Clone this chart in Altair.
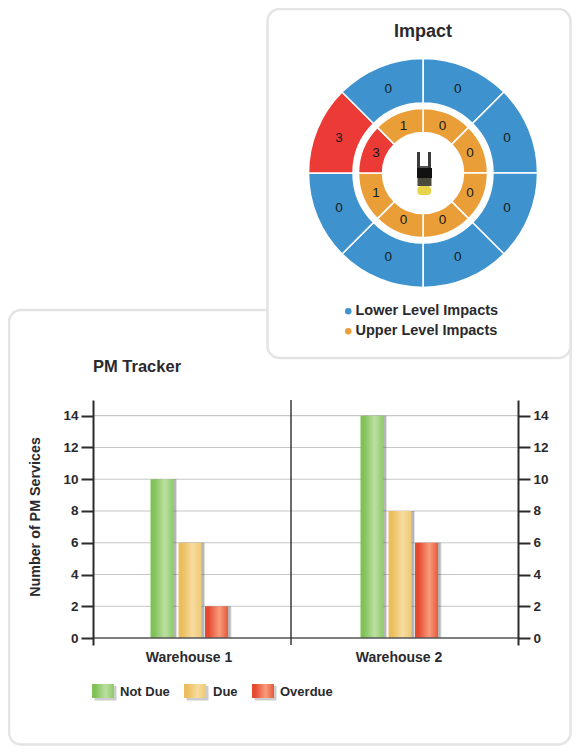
import altair as alt
import pandas as pd

FONT = "Liberation Sans"
INK = "#2a2a2e"

# ---- data
warehouses = ["Warehouse 1", "Warehouse 2"]
not_due = [10, 14]
due = [6, 8]
overdue = [2, 6]
y_ticks = [0, 2, 4, 6, 8, 10, 12, 14]
lower_values = [0, 0, 0, 0, 0, 0, 3, 0]
upper_values = [0, 0, 0, 0, 0, 1, 3, 1]
LOWER, UPPER, ALERT = "Lower Level Impacts", "Upper Level Impacts", "Alert"
sectors = [1, 1, 1, 1, 1, 1, 1, 1]

W, H = 564, 738


def grad(a, b, c):
    return alt.Gradient(
        gradient="linear", x1=0, x2=1, y1=0, y2=0,
        stops=[alt.GradientStop(color=a, offset=0),
               alt.GradientStop(color=a, offset=0.15),
               alt.GradientStop(color=b, offset=0.62),
               alt.GradientStop(color=c, offset=1)],
    )


G_GREEN = grad("#80c257", "#bcdfa2", "#8ccb68")
G_YELLOW = grad("#ebbd5c", "#f7dc9f", "#efc872")
G_RED = grad("#e54a30", "#f89c7c", "#e85a3c")
one = pd.DataFrame({"a": [0]})


def box(x, x2, y, y2, **kw):
    return alt.Chart(one).mark_rect(**kw).encode(
        x=alt.value(x), x2=alt.value(x2), y=alt.value(y), y2=alt.value(y2))


def label(text, x, y, size=14, align="left", angle=0, color=INK):
    return alt.Chart(pd.DataFrame({"t": [text]})).mark_text(
        font=FONT, fontWeight="bold", fontSize=size, align=align, angle=angle,
        baseline="middle", color=color,
    ).encode(x=alt.value(x), y=alt.value(y), text="t:N")


card = dict(fill="white", stroke="#e4e4e4", strokeWidth=2.5, cornerRadius=12)
card_bottom = box(1, 562.5, 302, 736.5, **card)
card_top = box(259.5, 562.5, 1, 350, **card)

# ---- bars
yscale = alt.Scale(domain=[-0.44, 14.99], range=[637, 392], nice=False, zero=False)
xscale = alt.Scale(domain=warehouses, range=[76, 496], paddingInner=0, paddingOuter=0)


def yaxis(orient, offset, pad):
    return alt.Axis(
        orient=orient, offset=offset, values=y_ticks, title=None, grid=False, zindex=1,
        domainColor="#2b2b2b", domainWidth=2, tickColor="#2b2b2b", tickWidth=2,
        tickSize=12, labelFont=FONT, labelFontWeight="bold", labelFontSize=13.5,
        labelColor=INK, labelPadding=pad,
    )


grid = alt.Chart(pd.DataFrame({"t": y_ticks[1:]})).mark_rule(
    color="#c6c6c6", strokeWidth=1.2
).encode(
    x=alt.value(85), x2=alt.value(510),
    y=alt.Y("t:Q", scale=yscale, axis=yaxis("left", -85, 3)),
)
baseline = alt.Chart(pd.DataFrame({"t": [0]})).mark_rule(
    color="#555555", strokeWidth=1.6
).encode(
    x=alt.value(85), x2=alt.value(510),
    y=alt.Y("t:Q", scale=yscale, axis=yaxis("right", -(W - 510), 3)),
)
mid_rule = alt.Chart(one).mark_rule(color="#2b2b2b", strokeWidth=1.4).encode(
    x=alt.value(283), y=alt.value(392), y2=alt.value(637))


def bars(values, fill, dx):
    df = pd.DataFrame({"w": warehouses, "v": values})
    enc = dict(
        x=alt.X("w:N", scale=xscale, sort=warehouses,
                axis=alt.Axis(orient="bottom", offset=630 - H, title=None, domain=False,
                              ticks=False, labelAngle=0, labelFont=FONT, zindex=1,
                              labelFontWeight="bold", labelFontSize=14, labelColor=INK,
                              labelPadding=12)),
        y=alt.Y("v:Q", scale=yscale, axis=None),
    )
    shadows = [
        alt.Chart(df).mark_bar(width=23, xOffset=dx + s, fill="#555555", opacity=o).encode(**enc)
        for s, o in ((3.5, 0.18), (2.5, 0.3))
    ]
    return alt.layer(*shadows, alt.Chart(df).mark_bar(width=23, xOffset=dx, fill=fill).encode(**enc))


bar_layers = [bars(not_due, G_GREEN, -27), bars(due, G_YELLOW, 1), bars(overdue, G_RED, 27.5)]


def swatch(x, fill):
    return [box(x + 2.5, x + 24.5, 678, 692.5, fill="#555555", opacity=0.3),
            box(x, x + 22, 676, 690, fill=fill)]


swatches = swatch(84, G_GREEN) + swatch(176, G_YELLOW) + swatch(244, G_RED)
swatch_text = [label("Not Due", 112, 684, 13), label("Due", 205, 684, 13), label("Overdue", 272, 684, 13)]

# ---- polar rings
CX, CY = 415, 165
theta = alt.Theta("s:Q", stack=True, scale=alt.Scale(domain=[0, 8]))


def ring_df(values, level):
    return pd.DataFrame({
        "i": range(8), "s": sectors, "v": values,
        "level": [ALERT if v >= 3 else level for v in values],
    })


color = alt.Color(
    "level:N",
    scale=alt.Scale(domain=[LOWER, UPPER, ALERT], range=["#3e92cd", "#ea9e38", "#ec3b36"]),
    legend=alt.Legend(orient="none", legendX=333, legendY=296, values=[LOWER, UPPER], title=None,
                      symbolType="circle", symbolSize=42, symbolStrokeWidth=0,
                      labelFont=FONT, labelFontWeight="bold", labelFontSize=14.5, labelColor=INK,
                      labelOffset=0, rowPadding=5, padding=0),
)


def ring(values, level, r, r2, rt):
    df = ring_df(values, level)
    arc = alt.Chart(df).mark_arc(radius=r, radius2=r2, stroke="white", strokeWidth=1.5).encode(
        theta=theta, color=color, order=alt.Order("i:Q"),
        x=alt.value(CX), y=alt.value(CY))
    txt = alt.Chart(df).mark_text(radius=rt, font=FONT, fontSize=13.5, color="#141c22").encode(
        theta=theta, detail="i:N", order=alt.Order("i:Q"), text="v:Q",
        x=alt.value(CX), y=alt.value(CY))
    return [arc, txt]


rings = ring(lower_values, LOWER, 114.5, 70, 91) + ring(upper_values, UPPER, 64.5, 40.5, 51)

# ---- small truck glyph
truck = [
    box(409, 412, 144, 160, fill="#3a3a3a"),
    box(420, 423, 144, 160, fill="#3a3a3a"),
    box(412, 420, 158, 160, fill="#555555"),
    box(409, 424, 160, 170, fill="#111111"),
    box(409.5, 423.5, 170, 178, fill="#4a4a3c"),
    box(409.5, 423, 178, 187, fill="#e7d34c", cornerRadius=3),
]

chart = alt.layer(
    card_bottom, card_top,
    grid,
    *bar_layers,
    baseline, mid_rule,
    *rings, *truck,
    label("Impact", 415, 24, 18, "center"),
    label("PM Tracker", 85, 359, 16.5),
    label("Number of PM Services", 28, 509, 14.3, "center", 270),
    *swatches, *swatch_text,
).resolve_axis(y="independent").properties(
    width=W, height=H, padding=0,
    autosize=alt.AutoSizeParams(type="none"),
).configure_view(stroke=None)

chart.save("out.html", embed_options={"renderer": "svg", "actions": False})
